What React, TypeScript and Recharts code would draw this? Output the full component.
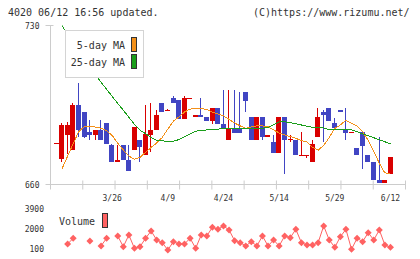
import React from 'react';
import { ComposedChart, LineChart, Line, Bar, XAxis, YAxis, Legend } from 'recharts';

// ---- data ----
const dates = [
  '3/11', '3/12', '3/13', '3/14', '3/17', '3/18', '3/19', '3/21', '3/24', '3/25',
  '3/26', '3/27', '3/28', '3/31', '4/1', '4/2', '4/3', '4/4', '4/7', '4/8',
  '4/9', '4/10', '4/11', '4/14', '4/15', '4/16', '4/17', '4/18', '4/21', '4/22',
  '4/24', '4/25', '4/28', '4/30', '5/1', '5/2', '5/7', '5/8', '5/9', '5/12',
  '5/14', '5/15', '5/16', '5/19', '5/20', '5/21', '5/22', '5/23', '5/26', '5/27',
  '5/29', '5/30', '6/2', '6/3', '6/4', '6/5', '6/6', '6/9', '6/10', '6/11',
  '6/12',
];
const opens = [
  678.0, 671.4, 681.7, 675.4, 694.8, 692.1, 682.9, 681.7, 684.2, 686.9,
  677.2, 669.8, 677.2, 670.6, 675.4, 679.8, 673.0, 681.7, 683.9, 696.1,
  692.8, 697.9, 697.0, 688.8, 697.8, 689.6, 690.8, 689.9, 687.9, 693.8,
  686.7, 679.5, 684.9, 684.9, 700.8, 689.9, 679.5, 689.9, 680.8, 678.8,
  673.8, 689.9, 679.7, 679.8, 673.0, 673.0, 669.8, 680.8, 692.1, 693.8,
  686.9, 693.0, 684.2, 682.8, 675.9, 682.9, 673.2, 670.0, 662.2, 660.6,
  664.5,
];
const highs = [
  678.3, 687.1, 687.3, 696.1, 704.9, 692.1, 688.2, 684.2, 688.2, 686.9,
  677.9, 677.2, 677.2, 677.2, 685.1, 679.8, 694.8, 696.1, 693.0, 696.1,
  693.1, 699.0, 697.0, 699.0, 698.1, 690.8, 697.9, 689.9, 693.8, 693.8,
  701.7, 701.7, 701.7, 700.8, 700.8, 689.9, 689.9, 689.9, 682.0, 682.0,
  689.9, 689.9, 682.0, 679.8, 682.9, 673.1, 679.8, 693.8, 693.0, 693.8,
  689.1, 693.0, 693.8, 683.0, 675.9, 682.9, 673.2, 670.0, 681.0, 662.2,
  671.9,
];
const lows = [
  677.8, 669.7, 673.6, 675.4, 681.0, 680.5, 679.5, 679.5, 679.5, 677.8,
  669.8, 669.8, 670.6, 665.9, 675.4, 669.7, 673.0, 674.1, 683.9, 692.0,
  692.7, 695.8, 688.8, 688.8, 697.7, 689.6, 689.6, 687.9, 686.7, 686.7,
  684.7, 679.5, 682.6, 682.6, 692.0, 679.5, 679.5, 679.5, 680.8, 673.8,
  673.8, 664.6, 678.8, 672.9, 673.0, 671.7, 669.8, 680.8, 678.8, 688.0,
  684.7, 691.8, 679.5, 682.7, 672.9, 666.8, 669.8, 661.9, 660.6, 660.6,
  664.5,
];
const closes = [
  678.1, 686.0, 686.0, 694.8, 683.9, 681.0, 681.7, 684.2, 679.5, 677.8,
  669.8, 671.0, 670.6, 665.9, 685.1, 676.7, 682.2, 684.2, 690.8, 692.0,
  692.9, 695.8, 688.8, 697.9, 697.9, 690.8, 689.6, 687.9, 693.8, 686.7,
  684.7, 684.9, 682.6, 682.6, 696.7, 679.5, 689.9, 680.8, 682.0, 673.8,
  689.9, 679.5, 679.9, 672.9, 673.1, 673.1, 677.9, 689.9, 690.5, 688.0,
  684.7, 691.8, 682.6, 682.9, 672.9, 676.9, 669.8, 661.9, 660.6, 662.2,
  671.9,
];
const ma5 = [
  null, 667.0, 672.5, 678.0, 683.3, 685.5, 685.7, 685.3, 684.8, 683.6,
  681.6, 678.2, 675.2, 672.5, 671.1, 671.9, 674.2, 676.3, 678.3, 680.7,
  684.4, 687.9, 689.8, 691.9, 693.2, 693.5, 693.5, 693.0, 691.9, 691.0,
  690.2, 688.7, 687.1, 685.8, 684.7, 685.3, 685.8, 685.8, 685.5, 684.0,
  682.7, 681.8, 681.1, 680.3, 679.4, 678.7, 676.4, 675.1, 677.2, 680.7,
  684.7, 686.2, 688.3, 686.9, 685.7, 683.2, 679.4, 674.7, 669.3, 665.1,
  664.8,
];
const ma25 = [
  null, 730.0, 726.0, 722.4, 718.8, 715.3, 711.8, 708.2, 705.0, 701.9,
  698.8, 695.7, 692.7, 689.6, 686.5, 683.9, 682.4, 680.6, 679.4, 679.2,
  679.0, 679.0, 679.8, 681.0, 682.2, 683.4, 683.9, 684.0, 684.2, 684.4,
  684.6, 684.6, 684.7, 684.7, 684.7, 684.8, 684.8, 684.8, 685.0, 686.3,
  687.6, 687.6, 687.2, 686.7, 686.2, 685.7, 685.2, 685.0, 684.9, 684.2,
  684.2, 684.2, 684.2, 684.1, 683.2, 682.3, 681.5, 680.6, 679.7, 678.8,
  677.9,
];
const volumes = [
  null, null, 770, 1310, null, null, 1050, null, 580, 1310,
  null, 1530, 510, 1620, 360, 510, 1310, 2000, 1150, 890,
  200, 990, 770, 770, 1310, 360, 1620, 1530, 2350, 2160,
  2480, 2100, 1080, 890, 580, 990, 580, 1530, 580, 1150,
  580, 1530, 1370, 2160, 890, 670, 670, 890, 2480, 1150,
  450, 1460, 2160, 260, 1310, 990, 1840, 1150, 2100, 670,
  450,
];
const priceTicks = [660, 730];
const volumeTicks = [100, 2000, 3900];
const labelIndexes = [10, 20, 30, 40, 50, 60];

// ---- layout / style constants ----
const X_DOMAIN: [number, number] = [-1.08, 62.7];
const GRID_DIV = 11;
const gridTicks = Array.from(
  { length: GRID_DIV + 1 },
  (_, j) => X_DOMAIN[0] + (j * (X_DOMAIN[1] - X_DOMAIN[0])) / GRID_DIV
);
const labelSet = new Set(labelIndexes);

const RED = '#d90000';
const BLUE = '#4145c3';
const ORANGE = '#f39019';
const GREEN = '#1a9e1a';
const VOL = '#ff6262';
const AXIS = '#cccccc';
const TEXT = '#333333';
const FONT = '"DejaVu Sans Mono", monospace';

const data = dates.map((d, i) => ({
  i,
  date: d,
  open: opens[i],
  high: highs[i],
  low: lows[i],
  close: closes[i],
  range: [lows[i], highs[i]],
  ma5: ma5[i],
  ma25: ma25[i],
  volume: volumes[i],
}));

function Candle(props: any) {
  const { x, y, width, height, payload } = props;
  if (x == null || y == null) return <g />;
  const { open, close, high, low } = payload;
  const span = high - low;
  const k = span > 0 ? height / span : 0;
  const yOf = (v: number) => y + (high - v) * k;
  const cx = Math.floor(x + width / 2) + 0.5;
  let top = Math.round(Math.min(yOf(open), yOf(close)));
  let bottom = Math.round(Math.max(yOf(open), yOf(close)));
  if (bottom - top < 1) bottom = top + 1;
  const color = close >= open ? RED : BLUE;
  return (
    <g shapeRendering="crispEdges">
      <line x1={cx} x2={cx} y1={Math.round(y)} y2={Math.round(y + height)} stroke={color} strokeWidth={1} />
      <rect x={cx - 2.5} y={top} width={5} height={bottom - top} fill={color} />
    </g>
  );
}

function PriceTick(p: any) {
  return (
    <g>
      <line x1={p.x - 5} x2={p.x + 3} y1={p.y} y2={p.y} stroke={AXIS} />
      <text x={p.x - 11} y={p.y + 3} textAnchor="end" fontSize={8} fontFamily={FONT} fill={TEXT}>
        {p.payload.value}
      </text>
    </g>
  );
}

function DateTick(p: any) {
  const v = p.payload.value;
  if (labelSet.has(v)) {
    return (
      <text x={p.x} y={p.y + 16} textAnchor="middle" fontSize={8} fontFamily={FONT} fill={TEXT}>
        {dates[v]}
      </text>
    );
  }
  return <line x1={p.x} x2={p.x} y1={p.y - 4} y2={p.y + 5} stroke={AXIS} />;
}

function VolTick(p: any) {
  return (
    <text x={p.x - 6.5} y={p.y + 1} textAnchor="end" fontSize={8} fontFamily={FONT} fill={TEXT}>
      {p.payload.value}
    </text>
  );
}

function Diamond(p: any) {
  const { cx, cy, index, value } = p;
  if (cx == null || cy == null || value == null) return <g key={index} />;
  const r = 3.5;
  return (
    <polygon
      key={index}
      points={`${cx},${cy - r} ${cx + r},${cy} ${cx},${cy + r} ${cx - r},${cy}`}
      fill={VOL}
    />
  );
}

const swatch = (color: string, left: number, top: number): React.CSSProperties => ({
  position: 'absolute',
  left,
  top,
  width: 6,
  height: 15,
  boxSizing: 'border-box',
  border: '1px solid #333',
  background: color,
});

const legendText = (top: number): React.CSSProperties => ({
  position: 'absolute',
  right: 18,
  top,
  fontFamily: FONT,
  fontSize: 10,
  lineHeight: '11px',
  color: TEXT,
  whiteSpace: 'nowrap',
});

function PriceLegend() {
  return (
    <div
      style={{
        position: 'relative',
        width: 79,
        height: 48,
        boxSizing: 'border-box',
        border: '1px solid #d4d4d4',
        background: '#fff',
      }}
    >
      <div style={legendText(9)}>5-day MA</div>
      <div style={swatch(ORANGE, 65, 6)} />
      <div style={legendText(26)}>25-day MA</div>
      <div style={swatch(GREEN, 65, 23)} />
    </div>
  );
}

function VolumeLegend() {
  return (
    <div style={{ position: 'relative', width: 60, height: 16 }}>
      <div
        style={{
          position: 'absolute',
          left: 0,
          top: 3,
          fontFamily: FONT,
          fontSize: 10,
          lineHeight: '11px',
          color: TEXT,
          whiteSpace: 'nowrap',
        }}
      >
        Volume
      </div>
      <div style={swatch(VOL, 43, 0)} />
    </div>
  );
}

export default function App() {
  return (
    <div
      style={{
        position: 'absolute',
        left: 0,
        top: 0,
        width: 420,
        height: 259,
        background: '#fff',
        overflow: 'hidden',
      }}
    >
      <div
        style={{
          position: 'absolute',
          left: 8,
          top: 7,
          fontFamily: FONT,
          fontSize: 10,
          lineHeight: '12px',
          color: TEXT,
          whiteSpace: 'nowrap',
        }}
      >
        4020 06/12 16:56 updated.
      </div>
      <div
        style={{
          position: 'absolute',
          left: 253,
          top: 7,
          fontFamily: FONT,
          fontSize: 10,
          lineHeight: '12px',
          color: TEXT,
          whiteSpace: 'nowrap',
        }}
      >
        (C)https://www.rizumu.net/
      </div>

      <div style={{ position: 'absolute', left: 0, top: 0 }}>
        <ComposedChart
          width={420}
          height={205}
          data={data}
          margin={{ top: 25.5, right: 14.5, bottom: 0.5, left: 0.5 }}
        >
          <XAxis
            dataKey="i"
            type="number"
            domain={X_DOMAIN}
            allowDataOverflow
            ticks={[...gridTicks, ...labelIndexes]}
            interval={0}
            tickSize={0}
            tickMargin={0}
            tickLine={false}
            tick={<DateTick />}
            axisLine={{ stroke: AXIS }}
            height={20}
          />
          <YAxis
            type="number"
            domain={[660, 730]}
            allowDataOverflow
            ticks={priceTicks}
            interval={0}
            width={50}
            tickSize={0}
            tickMargin={0}
            tickLine={false}
            tick={<PriceTick />}
            axisLine={{ stroke: AXIS }}
          />
          <Bar dataKey="range" barSize={5} shape={<Candle />} isAnimationActive={false} />
          <Line
            dataKey="ma5"
            type="linear"
            stroke={ORANGE}
            strokeWidth={1}
            dot={false}
            shapeRendering="crispEdges"
            isAnimationActive={false}
          />
          <Line
            dataKey="ma25"
            type="linear"
            stroke={GREEN}
            strokeWidth={1}
            dot={false}
            shapeRendering="crispEdges"
            isAnimationActive={false}
          />
          <Legend
            layout="horizontal"
            verticalAlign="middle"
            align="center"
            content={() => <PriceLegend />}
            wrapperStyle={{ position: 'absolute', left: 65, top: 30, width: 79, height: 48 }}
          />
        </ComposedChart>
      </div>

      <div style={{ position: 'absolute', left: 0, top: 200 }}>
        <LineChart
          width={420}
          height={59}
          data={data}
          margin={{ top: 11, right: 14.5, bottom: 8, left: 0.5 }}
        >
          <XAxis dataKey="i" type="number" domain={X_DOMAIN} allowDataOverflow hide />
          <YAxis
            type="number"
            domain={[100, 3900]}
            ticks={volumeTicks}
            interval={0}
            width={50}
            tickSize={0}
            tickMargin={0}
            tickLine={false}
            axisLine={false}
            tick={<VolTick />}
          />
          <Line
            dataKey="volume"
            type="linear"
            stroke={VOL}
            strokeWidth={1}
            dot={<Diamond />}
            activeDot={false}
            isAnimationActive={false}
          />
          <Legend
            layout="horizontal"
            verticalAlign="middle"
            align="center"
            content={() => <VolumeLegend />}
            wrapperStyle={{ position: 'absolute', left: 59, top: 13, width: 60, height: 16 }}
          />
        </LineChart>
      </div>
    </div>
  );
}
